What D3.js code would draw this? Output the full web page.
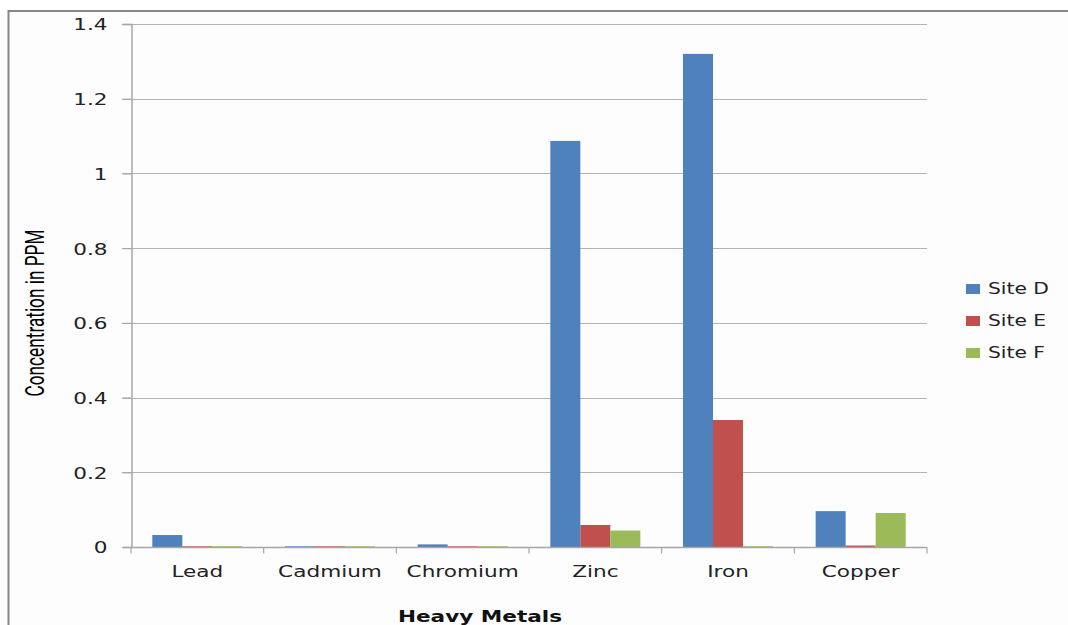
<!DOCTYPE html>
<html>
<head>
<meta charset="utf-8">
<script src="https://cdn.jsdelivr.net/npm/d3@7"></script>
<style>
  html, body { margin: 0; padding: 0; background: #ffffff; }
  svg { display: block; }
</style>
</head>
<body>
<svg id="chart" width="1068" height="625"></svg>
<script>
// Heavy metal concentrations (ppm) measured at three sites
const metals = ["Lead", "Cadmium", "Chromium", "Zinc", "Iron", "Copper"];
const sites = ["Site D", "Site E", "Site F"];
const siteD = [0.032, 0.002, 0.007, 1.087, 1.32, 0.096];
const siteE = [0.002, 0.002, 0.002, 0.059, 0.34, 0.004];
const siteF = [0.002, 0.002, 0.002, 0.044, 0.002, 0.091];
const yTicks = [0, 0.2, 0.4, 0.6, 0.8, 1, 1.2, 1.4];
const siteColors = ["#4F81BD", "#C0504D", "#9BBB59"];

(function () {
  const seriesValues = [siteD, siteE, siteF];
  const rows = metals.map((m, i) => ({
    metal: m,
    values: sites.map((s, j) => ({ site: s, value: seriesValues[j][i] }))
  }));

  const svg = d3.select("#chart");
  const stretch = 1.35;  // horizontal text stretch
  const plotLeft = 131, plotRight = 927, plotTop = 24, plotBottom = 547;

  // chart frame and background
  svg.append("rect").attr("x", 0).attr("y", 0).attr("width", 1068).attr("height", 625).attr("fill", "#ffffff");
  svg.append("rect").attr("x", 8.5).attr("y", 11).attr("width", 1070).attr("height", 630)
    .attr("fill", "#fdfdfd").attr("stroke", "#868686").attr("stroke-width", 2);

  const x = d3.scaleBand().domain(metals).range([plotLeft, plotRight]).paddingInner(0).paddingOuter(0);
  const xs = d3.scaleBand().domain(sites).range([0, x.bandwidth()]).paddingInner(0).paddingOuter(0.71);
  const y = d3.scaleLinear().domain([0, 1.4]).range([plotBottom, plotTop]);
  const color = d3.scaleOrdinal().domain(sites).range(siteColors);

  // horizontal gridlines
  svg.append("g").selectAll("line").data(yTicks.filter(t => t > 0)).join("line")
    .attr("x1", plotLeft - 9).attr("x2", plotRight)
    .attr("y1", d => Math.round(y(d)) + 0.5).attr("y2", d => Math.round(y(d)) + 0.5)
    .attr("stroke", "#b3b3b3").attr("stroke-width", 1);

  // bars
  svg.append("g").selectAll("g").data(rows).join("g")
    .attr("transform", d => `translate(${x(d.metal)},0)`)
    .selectAll("rect").data(d => d.values).join("rect")
    .attr("x", d => xs(d.site))
    .attr("width", xs.bandwidth())
    .attr("y", d => y(d.value))
    .attr("height", d => y(0) - y(d.value))
    .attr("fill", d => color(d.site));

  // y axis
  const yAxis = svg.append("g").attr("transform", `translate(${plotLeft + 0.5},0)`)
    .call(d3.axisLeft(y).tickValues(yTicks).tickSize(9).tickFormat(d3.format("~g")));
  yAxis.select(".domain").attr("stroke", "#a6a6a6").attr("stroke-width", 1.5);
  yAxis.selectAll(".tick line").attr("stroke", "#a6a6a6").attr("stroke-width", 1.2);
  yAxis.selectAll(".tick text")
    .attr("x", null).attr("dy", null)
    .attr("font-family", "DejaVu Sans").attr("font-size", 16).attr("fill", "#222")
    .attr("text-anchor", "end").attr("dominant-baseline", "central")
    .attr("transform", `translate(${107 - plotLeft},0) scale(${stretch},1)`);

  // x axis
  const xAxis = svg.append("g").attr("transform", `translate(0,${plotBottom + 0.5})`);
  xAxis.append("line").attr("x1", plotLeft).attr("x2", plotRight).attr("stroke", "#a6a6a6").attr("stroke-width", 1.5);
  const bounds = metals.map(m => x(m)).concat([plotRight]);
  xAxis.selectAll("line.tk").data(bounds).join("line").attr("class", "tk")
    .attr("x1", d => d).attr("x2", d => d).attr("y1", 0).attr("y2", 6)
    .attr("stroke", "#a6a6a6").attr("stroke-width", 1.2);
  xAxis.selectAll("text").data(metals).join("text")
    .attr("transform", d => `translate(${x(d) + x.bandwidth() / 2},${576 - plotBottom}) scale(${stretch},1)`)
    .attr("text-anchor", "middle")
    .attr("font-family", "DejaVu Sans").attr("font-size", 16).attr("fill", "#222")
    .text(d => d);

  // axis titles
  svg.append("text")
    .attr("transform", `translate(480,622) scale(${stretch},1)`)
    .attr("text-anchor", "middle")
    .attr("font-family", "DejaVu Sans").attr("font-weight", "bold").attr("font-size", 16).attr("fill", "#111")
    .text("Heavy Metals");

  svg.append("text")
    .attr("transform", `translate(44,313) scale(${stretch},1) rotate(-90)`)
    .attr("text-anchor", "middle")
    .attr("font-family", "Liberation Sans Narrow, Roboto, sans-serif").attr("font-size", 19).attr("fill", "#000")
    .attr("textLength", 167).attr("lengthAdjust", "spacingAndGlyphs")
    .text("Concentration in PPM");

  // legend
  const legendY = d3.scalePoint().domain(sites).range([289, 353]);
  const legend = svg.append("g").selectAll("g").data(sites).join("g")
    .attr("transform", d => `translate(966,${legendY(d)})`);
  legend.append("rect").attr("x", 0).attr("y", -5).attr("width", 14).attr("height", 10)
    .attr("fill", d => color(d));
  legend.append("text")
    .attr("transform", `translate(22,0) scale(${stretch},1)`)
    .attr("dominant-baseline", "central")
    .attr("font-family", "DejaVu Sans").attr("font-size", 15).attr("fill", "#222")
    .text(d => d);
})();
</script>
</body>
</html>
